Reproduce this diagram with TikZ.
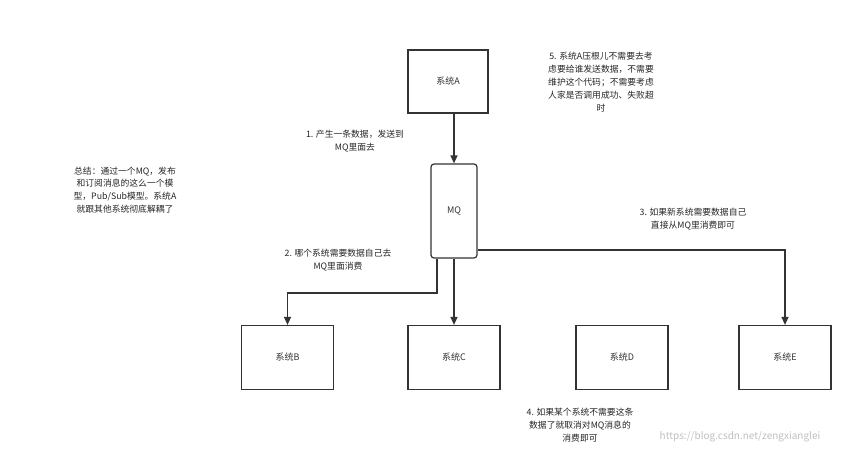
\documentclass[tikz,border=0pt]{standalone}
\usepackage{fontspec}
\setmainfont{Noto Sans CJK SC}
\usetikzlibrary{arrows.meta}
\begin{document}
\begin{tikzpicture}[x=1pt,y=-1pt,
  sysbox/.style={draw=black!80,line width=1.2pt,minimum width=92pt,minimum height=64pt,font=\fontsize{9}{11}\selectfont,text=black!80},
  conn/.style={draw=black!80,line width=1.3pt,-{Triangle[length=8pt,width=7pt]}},
  note/.style={align=center,font=\fontsize{8.8}{12.8}\selectfont,text=black!85}]
\useasboundingbox (0,0) rectangle (848,455);
\node[sysbox,minimum width=80pt,minimum height=63pt] (A) at (448,81.5) {系统A};
\node[sysbox,minimum width=46pt,minimum height=94pt,rounded corners=3pt] (MQ) at (454,211) {MQ};
\node[sysbox] (B) at (287.5,357.5) {系统B};
\node[sysbox] (C) at (454,357.5) {系统C};
\node[sysbox] (D) at (622,357.5) {系统D};
\node[sysbox] (E) at (785,357.5) {系统E};
\draw[conn] (A.south -| MQ.north) -- (MQ.north);
\draw[conn] ([xshift=-17pt]MQ.south) |- (287.5,293) -- (B.north);
\draw[conn] (MQ.south) -- (C.north);
\draw[conn] (MQ.east |- 0,250) -| (E.north);
\node[note] (n1) at (355,141) {1. 产生一条数据，发送到\\MQ里面去};
\node[note] (n2) at (338,260) {2. 哪个系统需要数据自己去\\MQ里面消费};
\node[note] (n3) at (693,219) {3. 如果新系统需要数据自己\\直接从MQ里消费即可};
\node[note] (n4) at (580,425) {4. 如果某个系统不需要这条\\数据了就取消对MQ消息的\\消费即可};
\node[note] (n5) at (601,82) {5. 系统A压根儿不需要去考\\虑要给谁发送数据，不需要\\维护这个代码；不需要考虑\\人家是否调用成功、失败超\\时};
\node[note] (sum) at (125,190) {总结：通过一个MQ，发布\\和订阅消息的这么一个模\\型，Pub/Sub模型。系统A\\就跟其他系统彻底解耦了};
\node[font=\fontsize{10}{12}\selectfont,text=black!25] (wm) at (740,437) {https://blog.csdn.net/zengxianglei};
\end{tikzpicture}
\end{document}
